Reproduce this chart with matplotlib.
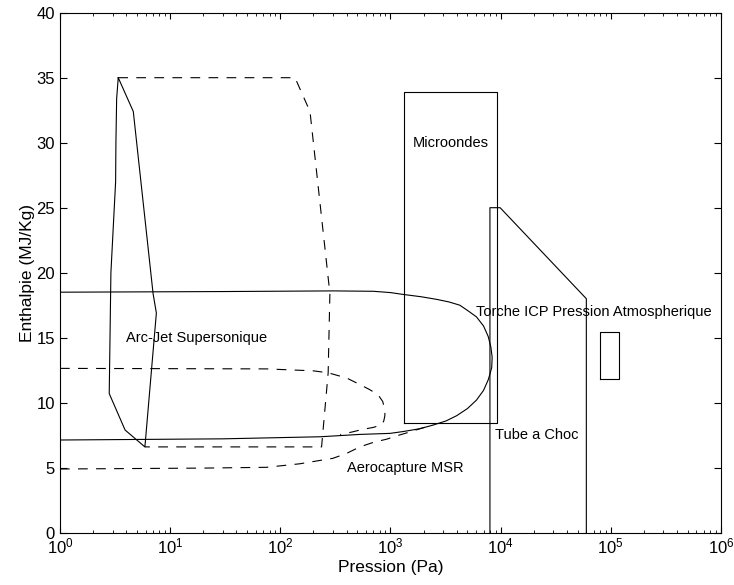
import numpy as np
import matplotlib
matplotlib.use('Agg')
import matplotlib.pyplot as plt

plt.rcParams['font.family'] = ['Liberation Sans', 'DejaVu Sans']
plt.rcParams['mathtext.fontset'] = 'custom'
plt.rcParams['mathtext.rm'] = 'Liberation Sans'
plt.rcParams['mathtext.default'] = 'regular'
plt.rcParams['lines.scale_dashes'] = False

# Arc-Jet supersonique (solid outline)
arcjet_p = [3.38, 4.63, 7.0, 7.5, 6.0, 5.9, 3.9, 2.8, 2.9, 3.2, 3.22, 3.27, 3.38]
arcjet_h = [35.0, 32.4, 18.4, 16.9, 7.3, 6.6, 7.9, 10.7, 20.0, 27.0, 30.0, 33.4, 35.0]

# Arc-Jet (dashed outline)
arcjet2_p = [3.38, 136, 186, 282, 272, 237, 5.9]
arcjet2_h = [35.0, 35.0, 32.4, 18.4, 12.3, 6.6, 6.6]

# Aerocapture MSR, solid trajectory
aero_p = [1, 30, 300, 700, 1000, 1300, 1900, 2620, 3400, 4260, 5000, 6040, 7000, 7710,
          8150, 8380, 8300, 8000, 7710, 7000, 6040, 5000, 3990, 3200,
          2440, 1850, 1300, 990, 527, 231, 30, 1]
aero_h = [18.5, 18.55, 18.6, 18.57, 18.47, 18.33, 18.15, 17.95, 17.75, 17.5, 17.1, 16.6, 15.9, 15.1,
          14.3, 13.5, 12.7, 12.2, 11.75, 10.95, 10.2, 9.55, 9.0, 8.6,
          8.28, 8.0, 7.78, 7.64, 7.56, 7.38, 7.22, 7.13]

# Aerocapture MSR, dashed trajectories
aero2_p = [1, 75, 200, 272, 400, 527, 650, 773, 850, 890, 890, 870, 830, 700, 560, 450, 350]
aero2_h = [12.64, 12.6, 12.45, 12.3, 11.9, 11.4, 11.0, 10.6, 10.1, 9.45, 9.0, 8.6, 8.3, 8.1, 7.95, 7.75, 7.55]
aero3_p = [1, 20, 75, 150, 245, 300, 400, 527, 700, 930, 1140, 1500, 1900, 2440]
aero3_h = [4.9, 4.97, 5.03, 5.3, 5.6, 5.72, 6.1, 6.6, 6.95, 7.2, 7.45, 7.75, 8.03, 8.28]

# Microondes
micro_p = [1324, 9180, 9180, 1324, 1324]
micro_h = [8.46, 8.46, 33.9, 33.9, 8.46]

# Tube a choc
tube_p = [8000, 8000, 9900, 60000, 60000]
tube_h = [0, 25.0, 25.0, 18.0, 0]

# Torche ICP pression atmospherique
icp_p = [80000, 120000, 120000, 80000, 80000]
icp_h = [11.8, 11.8, 15.4, 15.4, 11.8]

fig = plt.figure(figsize=(7.34, 5.85), dpi=100)
ax = fig.add_axes([0.0817, 0.0894, 0.9005, 0.8889])

lw = 0.8
dash = (7, 6)
ax.plot(arcjet_p, arcjet_h, 'k-', lw=lw)
ax.plot(arcjet2_p, arcjet2_h, 'k--', lw=lw, dashes=dash)
ax.plot(aero_p, aero_h, 'k-', lw=lw)
ax.plot(aero2_p, aero2_h, 'k--', lw=lw, dashes=dash)
ax.plot(aero3_p, aero3_h, 'k--', lw=lw, dashes=dash)
ax.plot(micro_p, micro_h, 'k-', lw=lw)
ax.plot(tube_p, tube_h, 'k-', lw=lw)
ax.plot(icp_p, icp_h, 'k-', lw=lw)

fs = 10.5
ax.text(4.0, 15, 'Arc-Jet Supersonique', fontsize=fs, va='center')
ax.text(1600, 30, 'Microondes', fontsize=fs, va='center')
ax.text(400, 5.0, 'Aerocapture MSR', fontsize=fs, va='center')
ax.text(8850, 7.5, 'Tube a Choc', fontsize=fs, va='center')
ax.text(6000, 17, 'Torche ICP Pression Atmospherique', fontsize=fs, va='center')

ax.set_xscale('log')
ax.set_xlim(1, 1e6)
ax.set_ylim(0, 40)
ax.set_yticks(np.arange(0, 41, 5))
ax.tick_params(which='both', direction='in', top=True, right=True, labelsize=12)
ax.tick_params(axis='x', which='major', length=4.5, pad=3)
ax.tick_params(axis='x', which='minor', length=2.5)
ax.tick_params(axis='y', which='major', length=5)
ax.set_xlabel('Pression (Pa)', fontsize=12.5, labelpad=2)
ax.set_ylabel('Enthalpie (MJ/Kg)', fontsize=12.5, labelpad=1)

fig.savefig('out.png', dpi=100)
